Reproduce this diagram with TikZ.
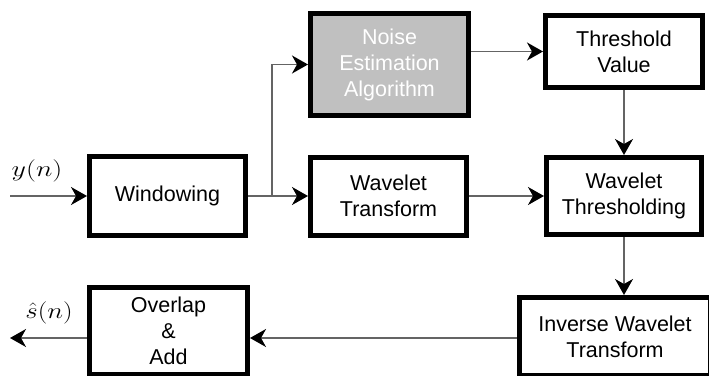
\documentclass[tikz,border=0pt]{standalone}
\usepackage{fontspec}
\setmainfont{Liberation Sans}
\usetikzlibrary{arrows.meta}
\definecolor{conn}{RGB}{100,100,100}
\definecolor{boxgray}{RGB}{192,192,192}
\begin{document}
\begin{tikzpicture}[x=1pt,y=-1pt,
  blk/.style={draw=black,line width=5pt,fill=white,align=center,inner sep=0pt,
    font=\fontsize{21.5}{26}\selectfont},
  conn/.style={draw=conn,line width=1.8pt,
    -{Stealth[length=16pt,width=18pt,inset=5pt,color=black]}},
  plain/.style={draw=conn,line width=1.8pt}]
\useasboundingbox (0,0) rectangle (709,375);
\clip (0,0) rectangle (709,375);
\node[blk,minimum width=156pt,minimum height=79pt] (win) at (167.5,196) {Windowing};
\node[blk,fill=boxgray,text=white,minimum width=158pt,minimum height=102pt] (noise) at (389.5,64.5) {Noise\\Estimation\\Algorithm};
\node[blk,minimum width=157pt,minimum height=72pt] (thr) at (624,51.5) {Threshold\\Value};
\node[blk,minimum width=156pt,minimum height=78pt] (wt) at (388.5,196) {Wavelet\\Transform};
\node[blk,minimum width=155pt,minimum height=77pt] (wth) at (624,196) {Wavelet\\Thresholding};
\node[blk,minimum width=191pt,minimum height=78pt] (inv) at (615,336.5) {Inverse Wavelet\\Transform};
\node[blk,minimum width=158pt,minimum height=87pt] (ola) at (168.5,331) {Overlap\\\&\\Add};
\coordinate (in) at (10,196);
\coordinate (br) at (272,196);
\coordinate (out) at (10,338);
\node (yn) at (37,171) {\fontsize{20}{24}\selectfont\scalebox{1.35}[1.08]{$y(n)$}};
\node (sn) at (49,313) {\fontsize{20}{24}\selectfont\scalebox{1.3}[1.08]{$\hat{s}(n)$}};
\draw[conn] (in) -- (win.west);
\draw[plain] (win.east) -- (br);
\draw[conn] (br) -- (wt.west);
\draw[conn] (br) |- (noise.west);
\draw[conn] (noise.east |- thr.west) -- (thr.west);
\draw[conn] (thr.south) -- (wth.north);
\draw[conn] (wt.east) -- (wth.west);
\draw[conn] (wth.south) -- (wth.south |- inv.north);
\draw[conn] (inv.west |- out) -- (ola.east |- out);
\draw[conn] (ola.west |- out) -- (out);
\end{tikzpicture}
\end{document}
